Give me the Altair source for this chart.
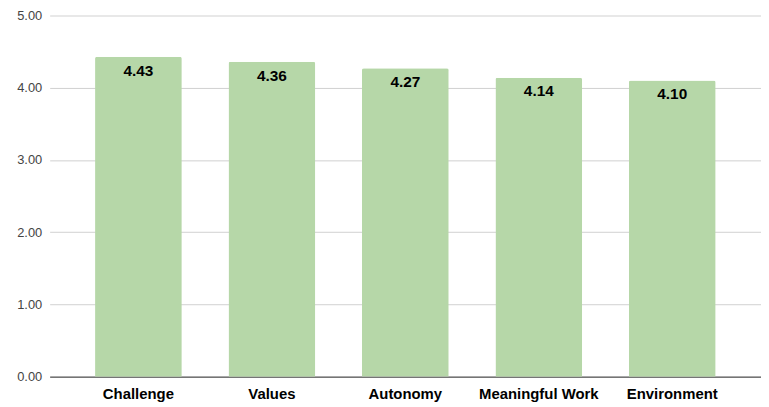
import altair as alt
import pandas as pd

categories = ["Challenge", "Values", "Autonomy", "Meaningful Work", "Environment"]
values = [4.43, 4.36, 4.27, 4.14, 4.10]

df = pd.DataFrame({"category": categories, "value": values})

FONT = "Liberation Sans"

x = alt.X(
    "category:N",
    sort=categories,
    title=None,
    scale=alt.Scale(paddingInner=0.35, paddingOuter=0.34),
    axis=alt.Axis(
        labelAngle=0,
        labelFont=FONT,
        labelFontSize=15,
        labelFontWeight="bold",
        labelColor="#000000",
        labelPadding=10,
        labelBaseline="top",
        ticks=False,
        domainColor="#333333",
        domainWidth=1,
        grid=False,
    ),
)
y = alt.Y(
    "value:Q",
    title=None,
    scale=alt.Scale(domain=[0, 5], nice=False),
    axis=alt.Axis(
        values=[0, 1, 2, 3, 4, 5],
        format=".2f",
        labelFont=FONT,
        labelFontSize=13,
        labelColor="#444444",
        labelPadding=8,
        ticks=False,
        domain=False,
        gridColor="#d0d0d0",
        gridWidth=1,
    ),
)

bars = alt.Chart(df).mark_bar(
    color="#b6d7a8", cornerRadiusTopLeft=2, cornerRadiusTopRight=2
).encode(x=x, y=y)

text = alt.Chart(df).mark_text(
    font=FONT, fontSize=15.5, fontWeight="bold", color="#000000",
    baseline="middle", dy=14
).encode(x=alt.X("category:N", sort=categories), y="value:Q", text=alt.Text("value:Q", format=".2f"))

chart = (bars + text).properties(
    width=717, height=364,
    background="#ffffff",
    autosize=alt.AutoSizeParams(type="none"),
    padding={"left": 42, "top": 6, "right": 0, "bottom": 27},
).configure_view(strokeWidth=0, stroke="transparent")

chart.save("out.html", embed_options={"renderer": "svg", "actions": False})
